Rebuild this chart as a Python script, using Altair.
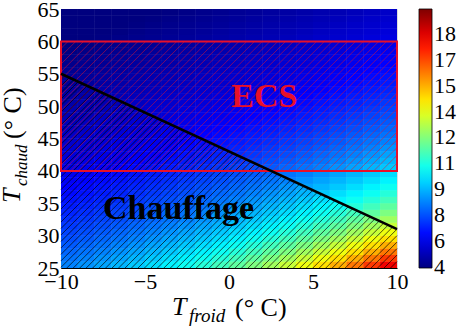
import json
import altair as alt
import numpy as np
import pandas as pd

# ---------------- data ----------------
x_range = [-10, 10]
y_range = [25, 65]
x_ticks = [-10, -5, 0, 5, 10]
y_ticks = [25, 30, 35, 40, 45, 50, 55, 60, 65]

# COP estimated per temperature lift (T_chaud - T_froid), lifts 16 ... 74 degC
lift_values = list(range(16, 75))
cop_by_lift = [18.67, 17.60, 16.65, 15.80, 15.03, 14.34, 13.71, 13.14, 12.61, 12.13,
               11.68, 11.26, 10.88, 10.52, 10.19, 9.88, 9.58, 9.31, 9.05, 8.80,
               8.59, 8.38, 8.19, 8.00, 7.83, 7.66, 7.50, 7.35, 7.21, 7.07,
               6.94, 6.81, 6.69, 6.57, 6.46, 6.36, 6.25, 6.15, 6.06, 5.97,
               5.87, 5.77, 5.68, 5.60, 5.51, 5.43, 5.35, 5.27, 5.20, 5.13,
               5.06, 4.99, 4.92, 4.86, 4.80, 4.73, 4.68, 4.62, 4.56]

cbar_domain = [4.87, 20.4]
cbar_ticks = [4.95, 6.5, 8.05, 9.6, 11.15, 12.7, 14.25, 15.8, 17.35, 18.9]
cbar_labels = ["4", "6", "8", "9", "11", "12", "14", "15", "17", "18"]

heating_line_x = [-10, 10]
heating_line_y = [55, 31]

ecs_x = [-10, 10]
ecs_y = [40, 60]

annot_text = ["ECS", "Chauffage"]
annot_x = [2.1, -3.0]
annot_y = [49.9, 32.6]
annot_color = ["#e8102a", "#000000"]

x_title = ["T", "froid", "(\u00b0 C)"]
y_title = ["T", "chaud", "(\u00b0 C)"]

# ---------------- tables built from the arrays ----------------
lift_to_cop = dict(zip(lift_values, cop_by_lift))
rows = []
for xi in range(x_range[0], x_range[1]):
    for yi in range(y_range[0], y_range[1]):
        rows.append({"x0": xi, "x1": xi + 1, "y0": yi, "y1": yi + 1,
                     "cop": lift_to_cop[yi - xi]})
cells = pd.DataFrame(rows)

jet = ["#00007f", "#0000ff", "#007fff", "#00ffff", "#7fff7f",
       "#ffff00", "#ff7f00", "#ff0000", "#7f0000"]
stops = [cbar_domain[0] + k * (cbar_domain[1] - cbar_domain[0]) / 8 for k in range(9)]

# hatch pattern (decoration) : 45 degree lines in pixel space
W, H = 336, 259
m = (W / (x_range[1] - x_range[0])) / (H / (y_range[1] - y_range[0]))
slope_line = (heating_line_y[1] - heating_line_y[0]) / (heating_line_x[1] - heating_line_x[0])
icpt_line = heating_line_y[0] - slope_line * heating_line_x[0]


def hatch_black(step):
    segs = []
    for c in np.arange(y_range[0] - 10 * m, heating_line_y[0] + 10 * m, step):
        xa = max(x_range[0], (y_range[0] - c) / m)
        xb = min(x_range[1], (icpt_line - c) / (m - slope_line))
        if xb > xa:
            segs.append({"xa": xa, "ya": m * xa + c, "xb": xb, "yb": m * xb + c})
    return pd.DataFrame(segs)


def hatch_red(step):
    segs = []
    for c in np.arange(ecs_y[0] - 10 * m, ecs_y[1] + 10 * m, step):
        xa = max(ecs_x[0], (ecs_y[0] - c) / m)
        xb = min(ecs_x[1], (ecs_y[1] - c) / m)
        if xb > xa:
            segs.append({"xa": xa, "ya": m * xa + c, "xb": xb, "yb": m * xb + c})
    return pd.DataFrame(segs)


FONT = "Liberation Serif"

xscale = alt.Scale(domain=x_range, nice=False, zero=False)
yscale = alt.Scale(domain=y_range, nice=False, zero=False)
xaxis = alt.Axis(values=x_ticks, title=None, labelFont=FONT, labelFontSize=22,
                 labelColor="black", ticks=False, tickSize=0, grid=False,
                 domainColor="black", labelPadding=3, labelOverlap=False, labelFlush=False)
yaxis = alt.Axis(values=y_ticks, title=None, labelFont=FONT, labelFontSize=22,
                 labelColor="black", ticks=False, tickSize=0, grid=False,
                 domainColor="black", labelPadding=2, labelOverlap=False, labelFlush=False)

label_expr = "%s[indexof(%s, datum.value)]" % (json.dumps(cbar_labels), json.dumps(cbar_ticks))

color_scale = alt.Scale(domain=stops, range=jet, clamp=True, interpolate="rgb")

heat_enc = dict(
    x=alt.X("x0:Q", scale=xscale, axis=xaxis),
    x2="x1:Q",
    y=alt.Y("y0:Q", scale=yscale, axis=yaxis),
    y2="y1:Q",
    color=alt.Color("cop:Q", scale=color_scale,
                    legend=alt.Legend(type="gradient", title=None, values=cbar_ticks,
                                      labelExpr=label_expr,
                                      gradientLength=259, gradientThickness=13, offset=22,
                                      padding=0, labelFont=FONT, labelFontSize=22,
                                      labelColor="black", labelOffset=2,
                                      gradientStrokeColor="black", gradientStrokeWidth=0.8,
                                      direction="vertical", orient="right",
                                      labelOverlap=False)),
)
heat = alt.Chart(cells).mark_rect().encode(**heat_enc)
heat2 = alt.Chart(cells).mark_rect().encode(**heat_enc)

red_hatch = alt.Chart(hatch_red(1.2)).mark_rule(color="#e8102a", strokeWidth=0.8, opacity=0.65).encode(
    x=alt.X("xa:Q", scale=xscale, axis=xaxis), y=alt.Y("ya:Q", scale=yscale, axis=yaxis),
    x2="xb:Q", y2="yb:Q")

black_hatch = alt.Chart(hatch_black(1.0)).mark_rule(color="black", strokeWidth=0.8, opacity=0.85).encode(
    x=alt.X("xa:Q", scale=xscale, axis=xaxis), y=alt.Y("ya:Q", scale=yscale, axis=yaxis),
    x2="xb:Q", y2="yb:Q")

ecs_df = pd.DataFrame({"x0": [ecs_x[0]], "x1": [ecs_x[1]], "y0": [ecs_y[0]], "y1": [ecs_y[1]]})
ecs_box = alt.Chart(ecs_df).mark_rect(fillOpacity=0, stroke="#e8102a", strokeWidth=2).encode(
    x=alt.X("x0:Q", scale=xscale, axis=xaxis), x2="x1:Q",
    y=alt.Y("y0:Q", scale=yscale, axis=yaxis), y2="y1:Q")

line_df = pd.DataFrame({"x": heating_line_x, "y": heating_line_y})
heat_line = alt.Chart(line_df).mark_line(color="black", strokeWidth=2.6).encode(
    x=alt.X("x:Q", scale=xscale, axis=xaxis), y=alt.Y("y:Q", scale=yscale, axis=yaxis))

annot_df = pd.DataFrame({"t": annot_text, "x": annot_x, "y": annot_y, "c": annot_color})
annots = alt.Chart(annot_df).mark_text(font=FONT, fontSize=34, fontWeight="bold",
                                       align="center", baseline="alphabetic").encode(
    x=alt.X("x:Q", scale=xscale, axis=xaxis), y=alt.Y("y:Q", scale=yscale, axis=yaxis),
    text="t:N", fill=alt.Fill("c:N", scale=None))


def piece(txt, px, py, size, style, angle=0):
    return alt.Chart(pd.DataFrame({"t": [txt]})).mark_text(
        font=FONT, fontSize=size, fontStyle=style, align="left", baseline="alphabetic",
        angle=angle, color="black").encode(x=alt.value(px), y=alt.value(py), text="t:N")


titles = [
    piece(x_title[0], 111, 306, 26, "italic"),
    piece(x_title[1], 128, 313, 19, "italic"),
    piece(x_title[2], 174, 307, 26, "normal"),
    piece(y_title[0], -41, 194, 26, "italic", 270),
    piece(y_title[1], -34, 177, 17, "italic", 270),
    piece(y_title[2], -40, 130, 26, "normal", 270),
]

chart = alt.layer(heat, heat2, red_hatch, black_hatch, ecs_box, heat_line, annots, *titles).properties(
    width=W, height=H,
    padding={"left": 61, "top": 9, "right": 61, "bottom": 64},
    autosize=alt.AutoSizeParams(type="none"),
).configure_view(stroke="black", strokeWidth=1).configure(
    background="white", font=FONT
).configure_axis(labelFont=FONT).configure_legend(labelFont=FONT)

chart.save("out.html", embed_options={"renderer": "svg", "actions": False})
